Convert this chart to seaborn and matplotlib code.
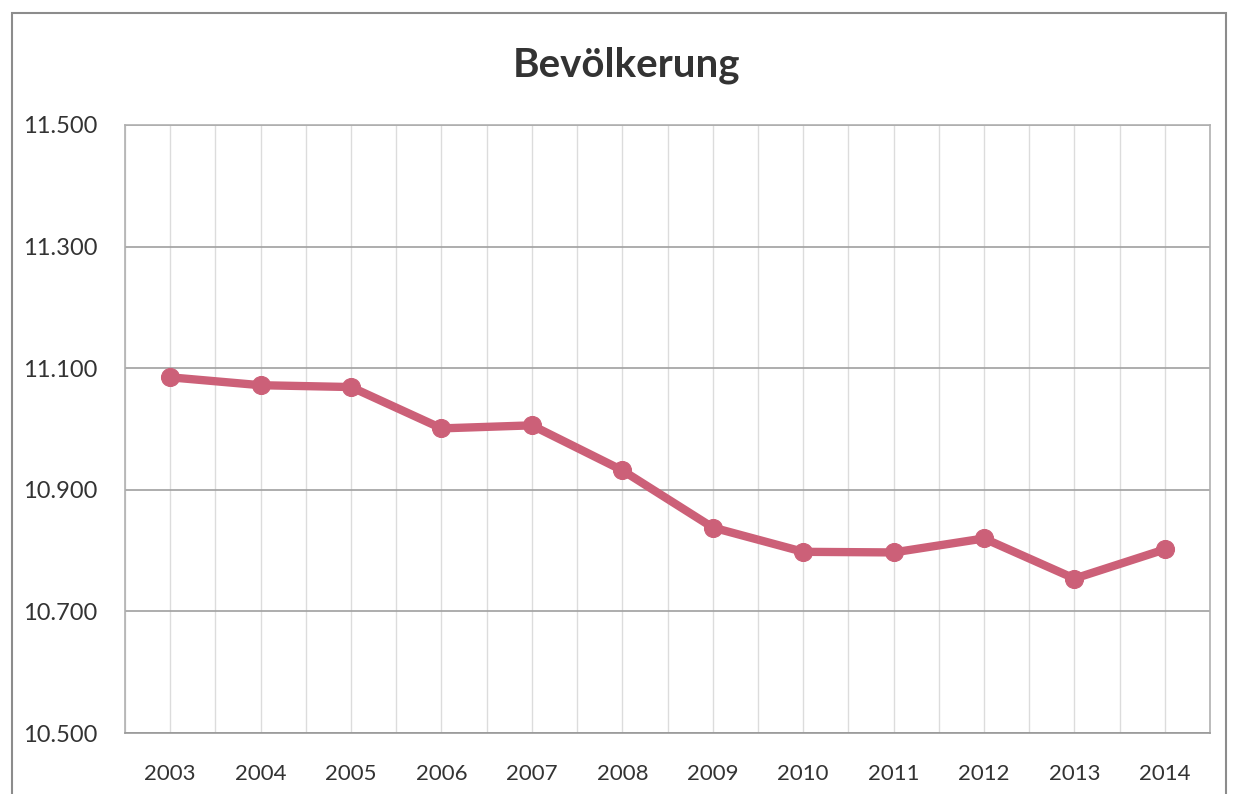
import pandas as pd
import matplotlib.pyplot as plt
import matplotlib.ticker as mticker
from matplotlib.patches import Rectangle
import seaborn as sns

# Werte (in Tausend)
jahre = ['2003', '2004', '2005', '2006', '2007', '2008',
         '2009', '2010', '2011', '2012', '2013', '2014']
bevoelkerung = [11085, 11072, 11069, 11001, 11006, 10932,
                10838, 10798, 10797, 10820, 10754, 10802]
y_ticks = [10500, 10700, 10900, 11100, 11300, 11500]

df = pd.DataFrame({'Jahr': jahre, 'Bevölkerung': bevoelkerung})

sns.set_style('white')
plt.rcParams['font.family'] = ['Lato', 'DejaVu Sans']

fig = plt.figure(figsize=(12.33, 7.94), dpi=100)
ax = fig.add_axes([0.1014, 0.0768, 0.8800, 0.7658])

sns.lineplot(data=df, x='Jahr', y='Bevölkerung', ax=ax, color='#cc6078',
             linewidth=6, marker='o', markersize=13,
             markeredgecolor='#cc6078', sort=False)

ax.set_xlim(-0.5, len(jahre) - 0.5)
ax.set_ylim(10500, 11500)
ax.set_yticks(y_ticks)
ax.yaxis.set_major_formatter(mticker.FuncFormatter(lambda v, p: f'{int(v):,}'.replace(',', '.')))

# Gitterlinien wie im Excel-Diagramm
ax.set_xticks(range(len(jahre)))
ax.set_xticks([i + 0.5 for i in range(-1, len(jahre))], minor=True)
ax.grid(axis='y', which='major', color='#a0a0a0', linewidth=1.2)
ax.grid(axis='x', which='major', color='#dcdcdc', linewidth=1)
ax.grid(axis='x', which='minor', color='#dcdcdc', linewidth=1)
ax.set_axisbelow(True)

for s in ax.spines.values():
    s.set_color('#b0b0b0')
    s.set_linewidth(1.2)
ax.spines['bottom'].set_color('#999999')

ax.tick_params(axis='x', which='both', length=0, labelsize=16, colors='#333333', pad=22)
ax.tick_params(axis='y', which='both', length=0, labelsize=17, colors='#333333', pad=20)
ax.set_xlabel('')
ax.set_ylabel('')

fig.text(0.5085, 0.918, 'Bevölkerung', ha='center', va='center',
         fontsize=29, fontweight='bold', color='#333333')

# Rahmen des Diagrammbereichs
fig.patches.append(Rectangle((0.0097, -0.01), 0.985, 0.994, transform=fig.transFigure,
                             fill=False, edgecolor='#8c8c8c', linewidth=1.5))

fig.savefig('out.png', dpi=100)
